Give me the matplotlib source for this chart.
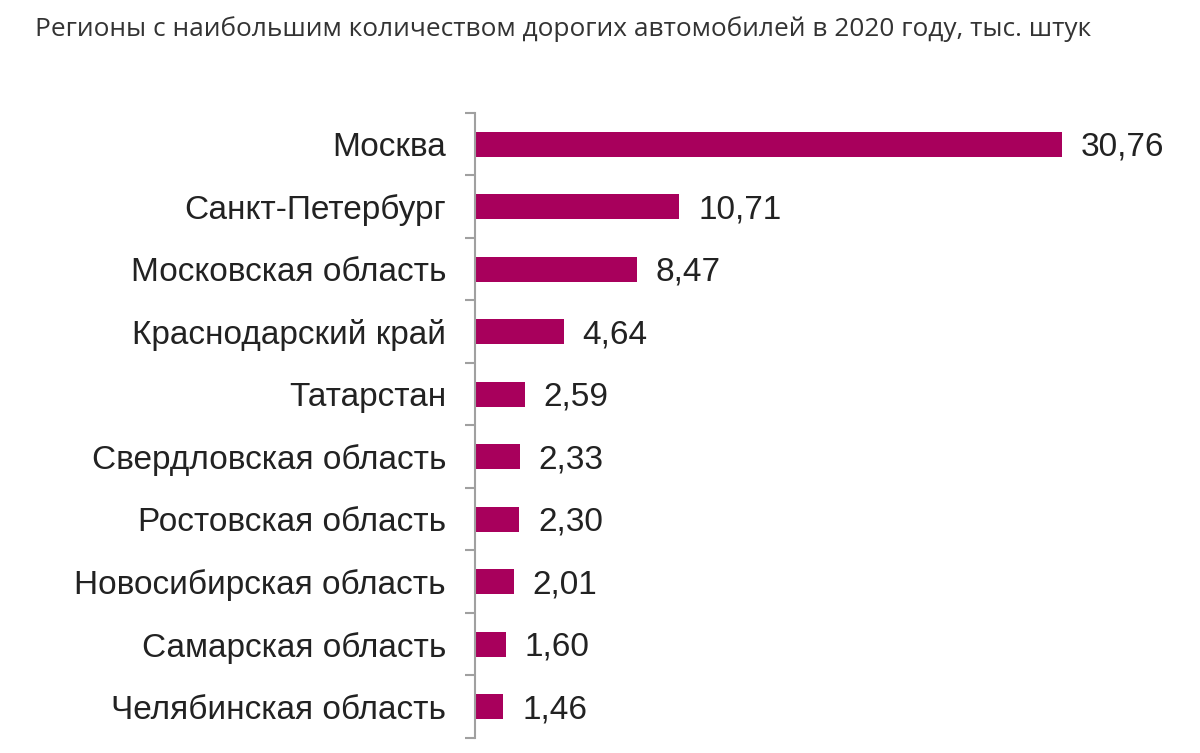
import numpy as np
import matplotlib.pyplot as plt
from matplotlib.ticker import FixedLocator

plt.rcParams['font.family'] = ['Liberation Sans', 'DejaVu Sans']

regions = ["Москва", "Санкт-Петербург", "Московская область",
           "Краснодарский край", "Татарстан", "Свердловская область",
           "Ростовская область", "Новосибирская область",
           "Самарская область", "Челябинская область"]
values = [30.76, 10.71, 8.47, 4.64, 2.59, 2.33, 2.30, 2.01, 1.60, 1.46]

title = "Регионы с наибольшим количеством дорогих автомобилей в 2020 году, тыс. штук"

fig = plt.figure(figsize=(12, 7.53), dpi=100)
ax = fig.add_axes([0.396, 0.02, 0.572, 0.83])

y = np.arange(len(regions))
ax.barh(y, values, height=0.4, color="#a8005c")
for yi, v in zip(y, values):
    # labels sit a touch below the bar centre in the original
    ax.text(v + 1.0, yi + 0.05, f"{v:.2f}".replace(".", ","), va="center",
            ha="left", fontsize=24, color="#222222")

ax.set_ylim(len(regions) - 0.5, -0.5)
ax.set_xlim(0, 36)
ax.set_yticks(y)
ax.set_yticklabels(regions, fontsize=24, color="#222222")
ax.tick_params(axis="y", which="major", length=0, pad=21)
ax.yaxis.set_minor_locator(FixedLocator(np.arange(-0.5, len(regions), 1)))
ax.tick_params(axis="y", which="minor", length=7, color="#a0a0a0", width=1.5)
ax.set_xticks([])
for s in ["top", "right", "bottom"]:
    ax.spines[s].set_visible(False)
ax.spines["left"].set_color("#a0a0a0")
ax.spines["left"].set_linewidth(1.5)

fig.text(0.029, 0.962, title, fontsize=18.9, color="#333333",
         family=["Open Sans", "DejaVu Sans"], va="center")

fig.savefig("out.png")
